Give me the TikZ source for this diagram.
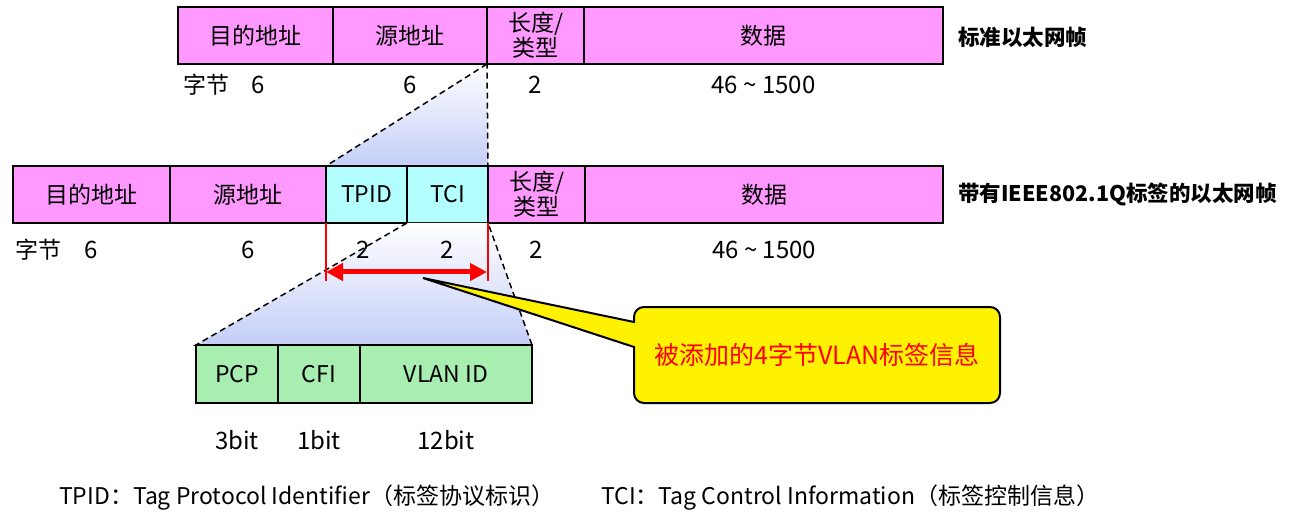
\documentclass[tikz,border=0pt]{standalone}
\usepackage{fontspec}
\setmainfont{Noto Sans CJK SC}
\usetikzlibrary{arrows.meta, positioning}
\definecolor{fieldpink}{RGB}{255,153,255}
\definecolor{tagcyan}{RGB}{179,255,255}
\definecolor{tcigreen}{RGB}{168,238,176}
\definecolor{zoomblue}{RGB}{196,206,248}
\begin{document}
\begin{tikzpicture}[
    x=1pt, y=-1pt,
    field/.style={draw, line width=2.5pt, minimum height=57pt, inner sep=0pt, outer sep=0pt,
        align=center, font=\fontsize{23}{25}\selectfont},
    pinkfield/.style={field, fill=fieldpink},
    tagfield/.style={field, fill=tagcyan},
    tcifield/.style={field, fill=tcigreen, minimum height=58pt},
    numlabel/.style={inner sep=0pt, font=\fontsize{24}{26}\selectfont},
    textlabel/.style={inner sep=0pt, anchor=west, font=\fontsize{23}{25}\selectfont},
    framelabel/.style={inner sep=0pt, anchor=west, font=\fontsize{21.5}{25}\selectfont\bfseries},
    zoomfill/.style={top color=white, bottom color=zoomblue},
    zoomedge/.style={line width=1.5pt, dash pattern=on 6pt off 4pt},
    redline/.style={draw=red, line width=2pt},
]
\useasboundingbox (0,0) rectangle (1313,526);
% standard frame
\node[pinkfield, minimum width=155pt] (dst1) at (255.5,35.5) {目的地址};
\node[pinkfield, minimum width=154pt, right=0pt of dst1] (src1) {源地址};
\node[pinkfield, minimum width=97pt, right=0pt of src1] (len1) {长度/\\类型};
\node[pinkfield, minimum width=359pt, right=0pt of len1] (data1) {数据};
\node[framelabel] at (958,37) {标准以太网帧};
% 802.1Q frame
\coordinate (tpidnw) at (326,166);
\coordinate (tcine) at (488,166);
\shade[zoomfill] (len1.south west) -- (tcine) -- (tpidnw) -- cycle;
\draw[zoomedge] (len1.south west) -- (tpidnw) -- (tcine) -- cycle;
\node[pinkfield, minimum width=157pt] (dst2) at (91.5,194.5) {目的地址};
\node[pinkfield, minimum width=156pt, right=0pt of dst2] (src2) {源地址};
\node[tagfield, minimum width=81pt, right=0pt of src2] (tpid) {TPID};
\node[tagfield, minimum width=81pt, right=0pt of tpid] (tci) {TCI};
\node[pinkfield, minimum width=97pt, right=0pt of tci] (len2) {长度/\\类型};
\node[pinkfield, minimum width=358pt, right=0pt of len2] (data2) {数据};
\node[framelabel] at (958,194) {带有IEEE802.1Q标签的以太网帧};
% TCI fields
\coordinate (pcpnw) at (196,345);
\coordinate (vidne) at (532,345);
\shade[zoomfill] (tci.south west) -- (tci.south east) -- (vidne) -- (pcpnw) -- cycle;
\draw[zoomedge] (tci.south west) -- (pcpnw) -- (vidne) -- (tci.south east);
\node[tcifield, minimum width=82pt, anchor=north west] (pcp) at (pcpnw) {PCP};
\node[tcifield, minimum width=82pt, right=0pt of pcp] (cfi) {CFI};
\node[tcifield, minimum width=172pt, right=0pt of cfi] (vid) {VLAN ID};
% byte counts
\node[textlabel] at (183,85) {字节};
\node[numlabel] at (258,85) {6};
\node[numlabel] at (src1 |- 0,85) {6};
\node[numlabel] at (len1 |- 0,85) {2};
\node[numlabel] at (data1 |- 0,85) {46 \textasciitilde{} 1500};
\node[textlabel] at (15,250) {字节};
\node[numlabel] at (dst2 |- 0,250) {6};
\node[numlabel] at (src2 |- 0,250) {6};
\node[numlabel] at (363,250) {2};
\node[numlabel] at (tci |- 0,250) {2};
\node[numlabel] at (len2 |- 0,250) {2};
\node[numlabel] at (data2 |- 0,250) {46 \textasciitilde{} 1500};
\node[numlabel] at (pcp |- 0,440) {3bit};
\node[numlabel] at (cfi |- 0,440) {1bit};
\node[numlabel] at (vid |- 0,440) {12bit};
% added tag
\coordinate (tagL) at (326,272);
\coordinate (tagR) at (487,272);
\draw[redline] (tpid.south west) -- (tpid.south west |- 0,281);
\draw[redline] (tci.south east) -- (tci.south east |- 0,281);
\draw[red, line width=5pt, {Triangle[length=17pt,width=17pt]}-{Triangle[length=17pt,width=17pt]}] (tagL) -- (tagR);
\coordinate (tip) at (423,278);
\draw[line width=2pt, fill=yellow] (tip) -- (634,347) [rounded corners=10pt] -- (634,403) -- (1000,403)
    -- (1000,307) -- (634,307) [sharp corners] -- (634,322) -- cycle;
\node[inner sep=0pt, text=red, font=\fontsize{25}{27}\selectfont] (note) at (817,355) {被添加的4字节VLAN标签信息};
% legend
\node[textlabel] (tpidkey) at (59,498) {TPID：Tag Protocol Identifier（标签协议标识）};
\node[textlabel] (tcikey) at (601,498) {TCI：Tag Control Information（标签控制信息）};
\end{tikzpicture}
\end{document}
